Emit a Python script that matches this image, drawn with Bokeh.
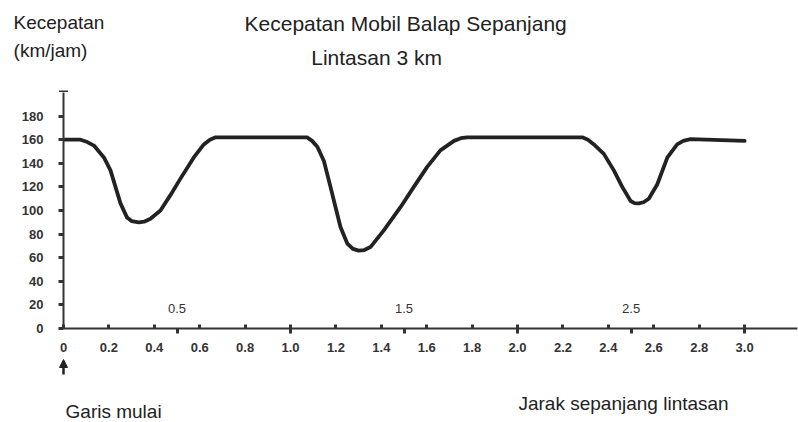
from bokeh.plotting import figure
from bokeh.layouts import column
from bokeh.models import Range1d, FixedTicker, Arrow, NormalHead
from bokeh.core.properties import value
from bokeh.embed import file_html
from bokeh.resources import INLINE

# ---- data ----
dist = [0.00, 0.075, 0.105, 0.134, 0.178, 0.207, 0.229, 0.251, 0.28, 0.30, 0.332, 0.355,
        0.383, 0.427, 0.471, 0.515, 0.574, 0.618, 0.645, 0.67, 1.073, 1.095, 1.118,
        1.147, 1.176, 1.198, 1.22, 1.25, 1.275, 1.30, 1.325, 1.352, 1.41, 1.485, 1.543,
        1.602, 1.66, 1.72, 1.75, 1.778, 2.285, 2.31, 2.336, 2.38, 2.424, 2.461, 2.498,
        2.515, 2.534, 2.555, 2.578, 2.615, 2.66, 2.703, 2.73, 2.762, 3.0]
speed = [160, 160, 158, 155, 145, 134, 120, 106, 94, 91, 90, 90.5,
         93, 100, 113, 127, 145, 156, 160, 162, 162, 159, 154,
         142, 120, 103, 86, 72, 67.5, 66, 66.5, 69, 83, 103, 120,
         137, 151, 159, 161.3, 162, 162, 160, 156, 148, 134, 120, 108,
         106.3, 106, 107, 110, 122, 145, 156, 159, 160.5, 159]

x_ticks = [0, 0.2, 0.4, 0.6, 0.8, 1.0, 1.2, 1.4, 1.6, 1.8, 2.0, 2.2, 2.4, 2.6, 2.8, 3.0]
x_tick_labels = ["0", "0.2", "0.4", "0.6", "0.8", "1.0", "1.2", "1.4", "1.6", "1.8",
                 "2.0", "2.2", "2.4", "2.6", "2.8", "3.0"]
x_minor = [0.5, 1.0, 1.5, 2.0, 2.5, 3.0]
half_ticks = [0.5, 1.5, 2.5]
half_labels = ["0.5", "1.5", "2.5"]
y_ticks = [0, 20, 40, 60, 80, 100, 120, 140, 160, 180]

title_text = "Kecepatan Mobil Balap Sepanjang"
subtitle_text = "Lintasan 3 km"
y_label_1 = "Kecepatan"
y_label_2 = "(km/jam)"
start_label = "Garis mulai"
x_label = "Jarak sepanjang lintasan"

FONT = "Liberation Sans"
INK = "#222222"
AXIS = "#333333"

W = 798
LEFT = 63          # px to the y axis
X_MAX = 3.233      # right end of the distance axis
PX_PER_KM = (W - LEFT - 1) / X_MAX


def blank(height, y_top, y_bottom):
    f = figure(width=W, height=height,
               x_range=Range1d(-LEFT / PX_PER_KM, (W - LEFT) / PX_PER_KM),
               y_range=Range1d(y_bottom, y_top),
               output_backend="svg", toolbar_location=None,
               min_border_left=0, min_border_right=0, min_border_top=0, min_border_bottom=0,
               x_axis_type=None, y_axis_type=None)
    f.frame_align = False
    f.grid.visible = False
    f.outline_line_color = None
    return f


def txt(f, x, y, t, size, align="left"):
    f.text(x=[x], y=[y], text=[t], text_font=value(FONT), text_font_size=size,
           text_color=INK, text_align=align, text_baseline="alphabetic")


# ---- top strip: titles (y in px from the page top, flipped range) ----
top = blank(92, 0, 92)
txt(top, 1.507, 23, title_text, "21px", "center")
txt(top, 1.379, 57, subtitle_text, "21px", "center")
txt(top, -0.22, 22, y_label_1, "19px")
txt(top, -0.22, 50, y_label_2, "19px")
# cap at the top end of the speed axis
top.segment(x0=-0.02, y0=91, x1=0.02, y1=91, line_width=2, line_color=AXIS)

# ---- main chart ----
p = figure(width=W, height=266, x_range=Range1d(0, X_MAX), y_range=Range1d(0, 200),
           output_backend="svg", toolbar_location=None,
           min_border_left=LEFT, min_border_right=1, min_border_top=0, min_border_bottom=30)
p.frame_align = False
p.grid.visible = False
p.outline_line_color = None

xa = p.xaxis[0]
xa.ticker = FixedTicker(ticks=x_ticks, minor_ticks=x_minor)
xa.major_label_overrides = dict(zip(x_ticks, x_tick_labels))
xa.axis_line_width = 2
xa.axis_line_color = AXIS
xa.major_tick_in = 4
xa.major_tick_out = 0
xa.major_tick_line_width = 3
xa.major_tick_line_color = AXIS
xa.minor_tick_in = 0
xa.minor_tick_out = 5
xa.minor_tick_line_width = 3
xa.minor_tick_line_color = AXIS
xa.major_label_standoff = 9
xa.major_label_text_font = FONT
xa.major_label_text_font_size = "13px"
xa.major_label_text_font_style = "bold"
xa.major_label_text_color = AXIS

ya = p.yaxis[0]
ya.ticker = FixedTicker(ticks=y_ticks, minor_ticks=[])
ya.axis_line_width = 2
ya.axis_line_color = AXIS
ya.major_tick_in = 0
ya.major_tick_out = 5
ya.major_tick_line_width = 3
ya.major_tick_line_color = AXIS
ya.minor_tick_in = 0
ya.minor_tick_out = 0
ya.major_label_standoff = 15
ya.major_label_text_font = FONT
ya.major_label_text_font_size = "13px"
ya.major_label_text_font_style = "bold"
ya.major_label_text_color = AXIS

p.line(dist, speed, line_width=3.8, line_color=INK, line_join="round", line_cap="round")

p.text(x=half_ticks, y=17, text=half_labels, text_align="center", text_baseline="middle",
       text_font=value(FONT), text_font_size="13px", text_color=AXIS)

# ---- bottom strip: start arrow and captions (y in px from the page top) ----
bottom = blank(64, 358, 422)
bottom.add_layout(Arrow(end=NormalHead(size=8, fill_color=INK, line_color=INK),
                        x_start=0, y_start=374, x_end=0, y_end=359,
                        line_width=2.5, line_color=INK))
txt(bottom, 0.009, 411, start_label, "19px")
txt(bottom, 2.004, 403, x_label, "19px")

layout = column(top, p, bottom, spacing=0)
open("out.html", "w").write(file_html(layout, INLINE))
